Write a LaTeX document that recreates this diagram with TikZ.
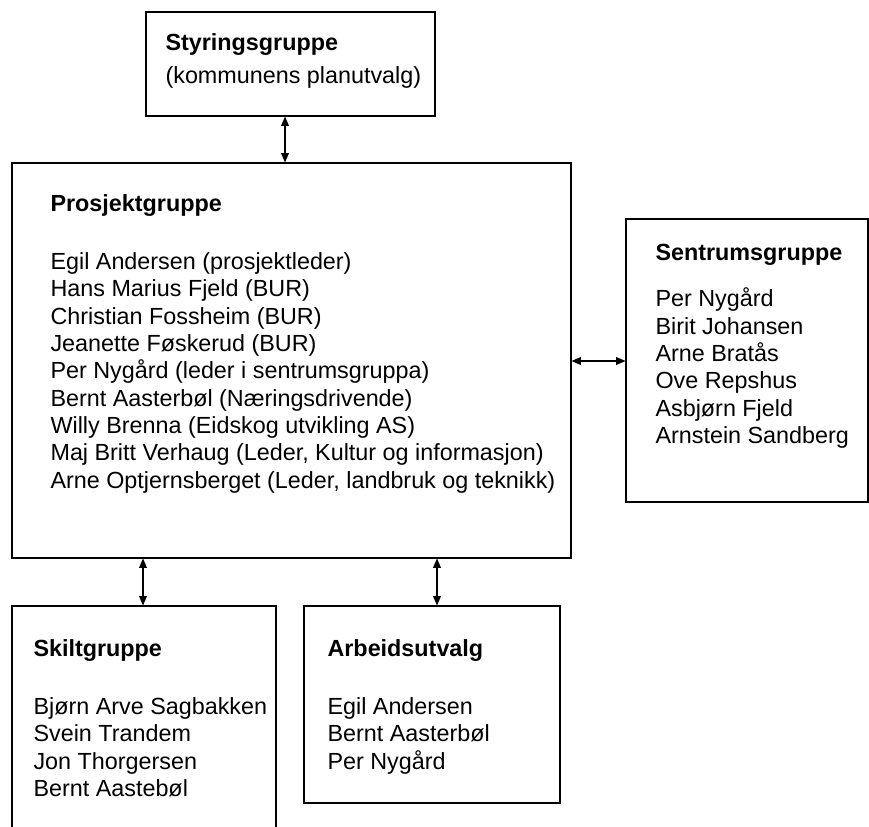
\documentclass[tikz,border=0pt]{standalone}
\usepackage{fontspec}
\setmainfont{Liberation Sans}
\usetikzlibrary{arrows.meta,positioning,fit,calc}

\begin{document}
\begin{tikzpicture}[x=0.5376pt, y=-0.5376pt, line width=0.6pt]

\tikzstyle{gruppe} = [rectangle, draw, inner sep=0pt, line width=0.6pt];
\tikzstyle{tekst} = [anchor=north west, inner sep=0pt, align=left, font=\fontsize{12.55}{14.7}\selectfont];
\tikzstyle{pil} = [{Triangle[length=5pt,width=4.2pt]}-{Triangle[length=5pt,width=4.2pt]}, line width=0.6pt];

\useasboundingbox (0,0) rectangle (869,827);

% Rad 1 - Styringsgruppe
\node (styr) [gruppe, fit={(146,12) (435,116)}] {};
\node (styrtekst) [tekst] at (165,33) {\textbf{Styringsgruppe}\\[3pt](kommunens planutvalg)};

% Rad 2 - Prosjektgruppe og Sentrumsgruppe
\node (prosjekt) [gruppe, fit={(12,163) (571,558)}] {};
\node (prosjekttekst) [tekst] at (50,194) {\textbf{Prosjektgruppe}\\[16.5pt]
Egil Andersen (prosjektleder)\\
Hans Marius Fjeld (BUR)\\
Christian Fossheim (BUR)\\
Jeanette Føskerud (BUR)\\
Per Nygård (leder i sentrumsgruppa)\\
Bernt Aasterbøl (Næringsdrivende)\\
Willy Brenna (Eidskog utvikling AS)\\
Maj Britt Verhaug (Leder, Kultur og informasjon)\\
Arne Optjernsberget (Leder, landbruk og teknikk)};

\node (sentrum) [gruppe, fit={(626,219) (868,502)}] {};
\node (sentrumtekst) [tekst] at (655,244) {\textbf{Sentrumsgruppe}\\[10pt]
Per Nygård\\
Birit Johansen\\
Arne Bratås\\
Ove Repshus\\
Asbjørn Fjeld\\
Arnstein Sandberg};

% Rad 3 - Skiltgruppe og Arbeidsutvalg
\node (skilt) [gruppe, fit={(12,606) (276,840)}] {};
\node (skilttekst) [tekst] at (33,639) {\textbf{Skiltgruppe}\\[16.5pt]
Bjørn Arve Sagbakken\\
Svein Trandem\\
Jon Thorgersen\\
Bernt Aastebøl};

\node (arbeid) [gruppe, fit={(304,606) (560,803)}] {};
\node (arbeidtekst) [tekst] at (327,639) {\textbf{Arbeidsutvalg}\\[16.5pt]
Egil Andersen\\
Bernt Aasterbøl\\
Per Nygård};

% Koblinger
\draw[pil] (styr.south -| 285,0) -- (prosjekt.north -| 285,0);
\draw[pil] (prosjekt.east |- 0,361) -- (sentrum.west |- 0,361);
\draw[pil] (prosjekt.south -| 143,0) -- (skilt.north -| 143,0);
\draw[pil] (prosjekt.south -| 437,0) -- (arbeid.north -| 437,0);

\end{tikzpicture}
\end{document}
